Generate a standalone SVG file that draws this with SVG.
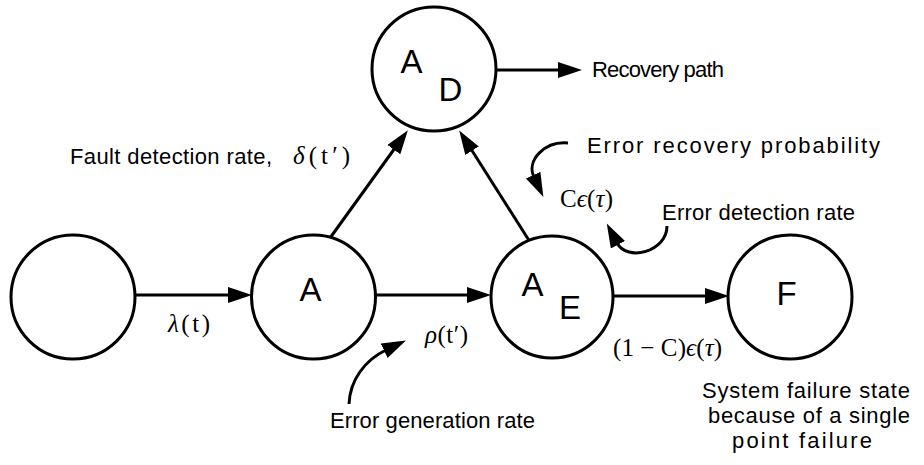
<svg xmlns="http://www.w3.org/2000/svg" width="924" height="465" viewBox="0 0 924 465">
<style>
.node{fill:#fff;stroke:#000;stroke-width:3}
.nl{font-family:"Liberation Sans",Arial,sans-serif;font-size:33px;fill:#000;text-anchor:middle}
.lbl{font-family:"Liberation Sans",Arial,sans-serif;font-size:22px;fill:#000}
.math{font-family:"Liberation Serif","Times New Roman",serif;font-size:25px;fill:#000}
.it{font-style:italic}
.edge{fill:none;stroke:#000;stroke-width:3}
</style>
<defs>
<marker id="ah" markerUnits="userSpaceOnUse" markerWidth="26" markerHeight="18" refX="2" refY="8" orient="auto">
<path d="M0,0 L24,8 L0,16 z" fill="#000"/>
</marker>
</defs>
<g id="connectors">
<line class="edge" x1="135" y1="295" x2="230" y2="295" marker-end="url(#ah)"/>
<line class="edge" x1="375" y1="295" x2="469" y2="295" marker-end="url(#ah)"/>
<line class="edge" x1="330" y1="238" x2="395" y2="148" marker-end="url(#ah)"/>
<line class="edge" x1="530" y1="242" x2="471" y2="149" marker-end="url(#ah)"/>
<line class="edge" x1="496" y1="70" x2="560" y2="70" marker-end="url(#ah)"/>
<line class="edge" x1="613" y1="296" x2="707" y2="296" marker-end="url(#ah)"/>
<path class="edge" d="M568,143 C545,141 526,160 534,177" marker-end="url(#ah)"/>
<path class="edge" d="M667,226 C667,252 627,262 617,243" marker-end="url(#ah)"/>
<path class="edge" d="M349,404 C350,380 365,360 386,350" marker-end="url(#ah)"/>
</g>
<g id="n0"><circle class="node" cx="73" cy="297" r="62"/></g>
<g id="nA"><circle class="node" cx="313.5" cy="297" r="62"/><text class="nl" x="310.5" y="301">A</text></g>
<g id="nAD"><circle class="node" cx="434" cy="69" r="62"/><text class="nl" x="411.5" y="73">A</text><text class="nl" x="450.5" y="101">D</text></g>
<g id="nAE"><circle class="node" cx="552" cy="297" r="61"/><text class="nl" x="532.5" y="296">A</text><text class="nl" x="570" y="319">E</text></g>
<g id="nF"><circle class="node" cx="790" cy="297" r="62"/><text class="nl" x="786.5" y="305">F</text></g>
<g id="labels">
<text class="lbl" x="592" y="77" textLength="132" lengthAdjust="spacing">Recovery path</text>
<text class="lbl" x="70" y="164" textLength="202" lengthAdjust="spacing">Fault detection rate,</text>
<text class="math" x="293" y="164" textLength="57" lengthAdjust="spacing"><tspan class="it">δ</tspan>(t′)</text>
<text class="lbl" x="587" y="153" textLength="293" lengthAdjust="spacing">Error recovery probability</text>
<text class="math" x="560" y="207" textLength="53" lengthAdjust="spacing">C<tspan class="it">ϵ</tspan>(<tspan class="it">τ</tspan>)</text>
<text class="lbl" x="662" y="220" textLength="193" lengthAdjust="spacing">Error detection rate</text>
<text class="math" x="168" y="332" textLength="42" lengthAdjust="spacing"><tspan class="it">λ</tspan>(t)</text>
<text class="math" x="425" y="343" textLength="43" lengthAdjust="spacing"><tspan class="it">ρ</tspan>(t′)</text>
<text class="math" x="613" y="356" textLength="109" lengthAdjust="spacing">(1 − C)<tspan class="it">ϵ</tspan>(<tspan class="it">τ</tspan>)</text>
<text class="lbl" x="330" y="428" textLength="205" lengthAdjust="spacing">Error generation rate</text>
<text class="lbl" x="806" y="398" text-anchor="middle" textLength="208" lengthAdjust="spacing">System failure state</text>
<text class="lbl" x="809" y="423" text-anchor="middle" textLength="202" lengthAdjust="spacing">because of a single</text>
<text class="lbl" x="802" y="448" text-anchor="middle" textLength="140" lengthAdjust="spacing">point failure</text>
</g>
</svg>
